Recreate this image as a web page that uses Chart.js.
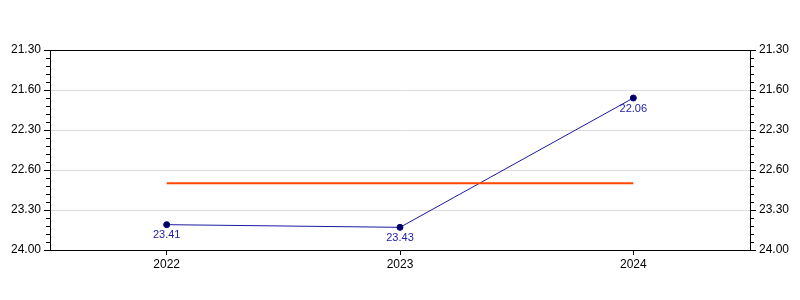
<!DOCTYPE html>
<html>
<head>
<meta charset="utf-8">
<script src="https://cdn.jsdelivr.net/npm/chart.js@4"></script>
<style>
  html, body { margin: 0; padding: 0; background: #fff; }
  #wrap { width: 800px; height: 300px; }
</style>
</head>
<body>
<div id="wrap"><canvas id="chart"></canvas></div>
<script>
// valores em formato min.seg
const years = ['2022', '2023', '2024'];
const times = ['23.41', '23.43', '22.06'];
const avgTimes = ['23.10', '23.10', '23.10'];
const tickLabels = ['21.30', '21.60', '22.30', '22.60', '23.30', '24.00'];
const yMin = 21.5;
const yMax = 24;

function toMinutes(s) {
  const [m, sec] = s.split('.');
  return Number(m) + Number(sec) / 60;
}

const FAMILY = 'Liberation Sans, Arial, sans-serif';
const AXIS_FONT = { family: FAMILY, size: 12 };

function yAxis(position, grid) {
  return {
    type: 'linear',
    position: position,
    reverse: true,
    min: yMin,
    max: yMax,
    afterFit: s => { s.width = 50; },
    afterBuildTicks: s => {
      s.ticks = tickLabels.map((t, i) => ({ value: yMin + i * 0.5 }));
    },
    ticks: {
      color: '#000',
      font: AXIS_FONT,
      padding: 3,
      callback: (v, i) => tickLabels[i]
    },
    grid: {
      display: true,
      drawOnChartArea: grid,
      color: '#dcdcdc',
      tickColor: '#000',
      tickLength: 6
    },
    border: { color: '#000' }
  };
}

// pequenos traços entre as marcas principais + moldura de cima
const extrasPlugin = {
  id: 'extras',
  afterDraw(chart) {
    const ctx = chart.ctx;
    const area = chart.chartArea;
    ctx.save();
    ctx.strokeStyle = '#000';
    ctx.lineWidth = 1;
    ['y', 'y2'].forEach(id => {
      const sc = chart.scales[id];
      for (let k = 0; k <= 25; k++) {
        if (k % 5 === 0) continue;
        const py = Math.round(sc.getPixelForValue(yMin + k * 0.1)) + 0.5;
        ctx.beginPath();
        if (id === 'y') { ctx.moveTo(area.left, py); ctx.lineTo(area.left - 4, py); }
        else { ctx.moveTo(area.right, py); ctx.lineTo(area.right + 4, py); }
        ctx.stroke();
      }
    });
    ctx.beginPath();
    ctx.moveTo(area.left, Math.round(area.top) + 0.5);
    ctx.lineTo(area.right, Math.round(area.top) + 0.5);
    ctx.stroke();

    // rótulos dos pontos
    const meta = chart.getDatasetMeta(1);
    ctx.fillStyle = '#1c1ca8';
    ctx.font = '11px ' + FAMILY;
    ctx.textAlign = 'center';
    ctx.textBaseline = 'top';
    meta.data.forEach((pt, i) => {
      ctx.fillText(times[i], pt.x, pt.y + 5);
    });
    ctx.restore();
  }
};

new Chart(document.getElementById('chart'), {
  type: 'line',
  data: {
    labels: years,
    datasets: [
      {
        label: 'Média',
        data: avgTimes.map(toMinutes),
        borderColor: '#ff4500',
        borderWidth: 2,
        pointRadius: 0,
        yAxisID: 'y'
      },
      {
        label: 'Tempo',
        data: times.map(toMinutes),
        borderColor: '#1a1aa0',
        borderWidth: 1,
        pointRadius: 3,
        pointBackgroundColor: '#000066',
        pointBorderColor: '#000080',
        pointBorderWidth: 1,
        yAxisID: 'y'
      }
    ]
  },
  options: {
    responsive: true,
    maintainAspectRatio: false,
    animation: false,
    layout: { padding: { top: 50, left: 0, right: 0, bottom: 0 } },
    plugins: { legend: { display: false }, tooltip: { enabled: false } },
    scales: {
      x: {
        type: 'category',
        offset: true,
        afterFit: s => { s.height = 50; },
        ticks: { color: '#000', font: AXIS_FONT, padding: 2 },
        grid: {
          display: true,
          drawOnChartArea: false,
          tickColor: '#000',
          tickLength: 5,
          offset: false
        },
        border: { color: '#000' }
      },
      y: yAxis('left', true),
      y2: yAxis('right', false)
    }
  },
  plugins: [extrasPlugin]
});
</script>
</body>
</html>
